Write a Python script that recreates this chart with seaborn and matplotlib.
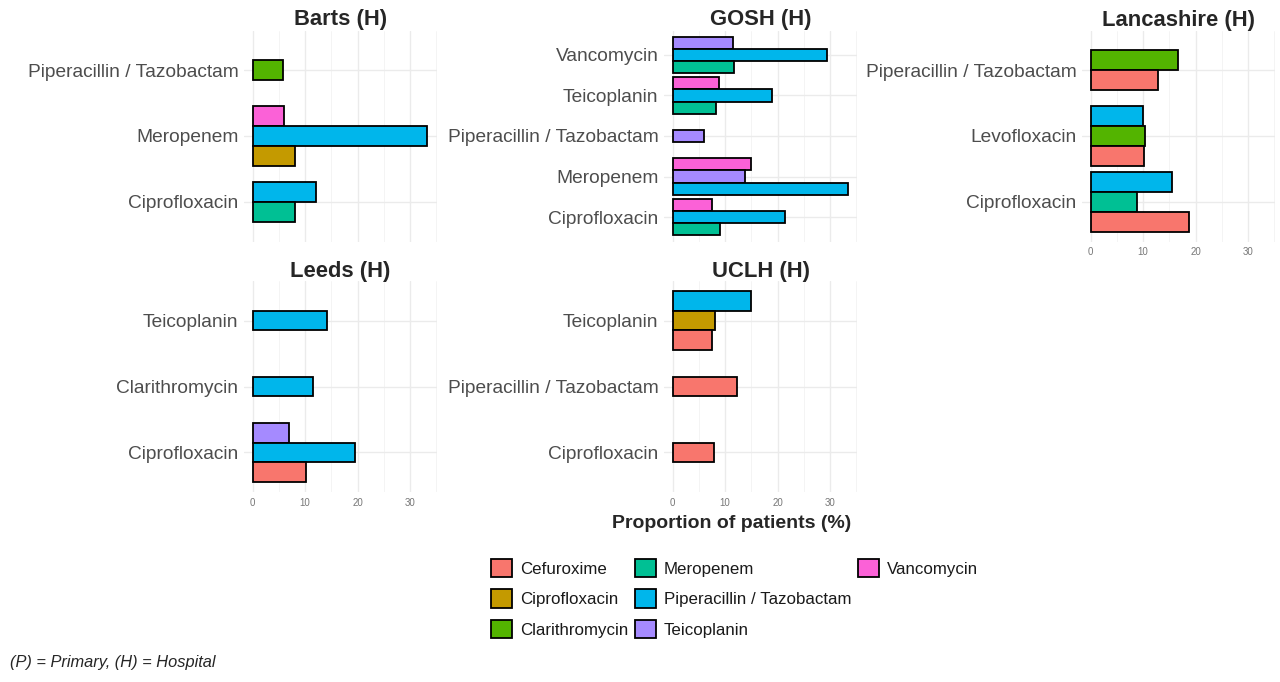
import matplotlib
matplotlib.use("Agg")
import matplotlib.pyplot as plt
from matplotlib.patches import Patch
from matplotlib.ticker import MultipleLocator
import pandas as pd
import seaborn as sns

PIP = "Piperacillin / Tazobactam"

sites = ["Barts (H)", "GOSH (H)", "Lancashire (H)", "Leeds (H)", "UCLH (H)"]
fill_levels = ["Cefuroxime", "Ciprofloxacin", "Clarithromycin", "Meropenem",
               PIP, "Teicoplanin", "Vancomycin"]
fill_colours = ["#F8766D", "#C49A00", "#53B400", "#00C094",
                "#00B6EB", "#A58AFF", "#FB61D7"]

# one row per bar: site, antibiotic on the y axis, antibiotic given with it, % of patients
site = (["Barts (H)"] * 6 + ["GOSH (H)"] * 13 + ["Lancashire (H)"] * 8
        + ["Leeds (H)"] * 5 + ["UCLH (H)"] * 5)
antibiotic = [
    PIP, "Meropenem", "Meropenem", "Meropenem", "Ciprofloxacin", "Ciprofloxacin",
    "Vancomycin", "Vancomycin", "Vancomycin", "Teicoplanin", "Teicoplanin", "Teicoplanin",
    PIP, "Meropenem", "Meropenem", "Meropenem", "Ciprofloxacin", "Ciprofloxacin", "Ciprofloxacin",
    PIP, PIP, "Levofloxacin", "Levofloxacin", "Levofloxacin",
    "Ciprofloxacin", "Ciprofloxacin", "Ciprofloxacin",
    "Teicoplanin", "Clarithromycin", "Ciprofloxacin", "Ciprofloxacin", "Ciprofloxacin",
    "Teicoplanin", "Teicoplanin", "Teicoplanin", PIP, "Ciprofloxacin",
]
combined_with = [
    "Clarithromycin", "Vancomycin", PIP, "Ciprofloxacin", PIP, "Meropenem",
    "Teicoplanin", PIP, "Meropenem", "Vancomycin", PIP, "Meropenem",
    "Teicoplanin", "Vancomycin", "Teicoplanin", PIP, "Vancomycin", PIP, "Meropenem",
    "Clarithromycin", "Cefuroxime", PIP, "Clarithromycin", "Cefuroxime",
    PIP, "Meropenem", "Cefuroxime",
    PIP, PIP, "Teicoplanin", PIP, "Cefuroxime",
    PIP, "Ciprofloxacin", "Cefuroxime", "Cefuroxime", "Cefuroxime",
]
pct = [
    5.7, 5.9, 33.2, 8.0, 12.0, 8.0,
    11.5, 29.5, 11.7, 8.8, 18.9, 8.2,
    6.0, 14.9, 13.8, 33.5, 7.5, 21.4, 9.1,
    16.7, 12.9, 10.0, 10.3, 10.1,
    15.6, 8.9, 18.7,
    14.2, 11.5, 6.9, 19.6, 10.2,
    14.9, 8.1, 7.4, 12.2, 7.9,
]

df = pd.DataFrame({"site": site, "antibiotic": antibiotic,
                   "combined_with": combined_with, "pct": pct})
palette = dict(zip(fill_levels, fill_colours))

sns.set_theme(style="white")
plt.rcParams["font.family"] = ["Liberation Sans", "DejaVu Sans"]

W, H = 1280, 682
col_left = [244, 664, 1082]
row_top = [30.5, 281]
panel_w, panel_h = 193, 211

xmax = df["pct"].max()
xlim = (-0.05 * xmax, 1.05 * xmax)

fig = plt.figure(figsize=(12.8, 6.82), dpi=100)

for i, s in enumerate(sites):
    r, c = divmod(i, 3)
    ax = fig.add_axes([col_left[c] / W, 1 - (row_top[r] + panel_h) / H,
                       panel_w / W, panel_h / H])
    sub = df[df["site"] == s]
    order = sorted(sub["antibiotic"].unique(), reverse=True)
    for cat in order:
        d = sub[sub["antibiotic"] == cat]
        hue_order = sorted(d["combined_with"].unique(),
                           key=fill_levels.index, reverse=True)
        # every bar is 0.3 wide, like ggplot dodge(preserve = "single")
        sns.barplot(data=d, x="pct", y="antibiotic", hue="combined_with",
                    order=order, hue_order=hue_order, palette=palette,
                    saturation=1, width=0.3 * len(hue_order), orient="h",
                    errorbar=None, edgecolor="black", linewidth=1.3,
                    legend=False, ax=ax)

    ax.set_xlim(xlim)
    ax.set_ylim(len(order) - 0.4, -0.6)
    ax.set_xlabel("")
    ax.set_ylabel("")
    ax.xaxis.set_major_locator(MultipleLocator(10))
    ax.xaxis.set_minor_locator(MultipleLocator(5))
    ax.set_axisbelow(True)
    ax.grid(which="major", axis="both", color="#EBEBEB", linewidth=1.0)
    ax.grid(which="minor", axis="x", color="#F3F3F3", linewidth=0.6)
    for sp in ax.spines.values():
        sp.set_visible(False)
    ax.tick_params(axis="both", which="both", length=0)
    ax.tick_params(axis="y", labelsize=13.8, labelcolor="#4D4D4D", pad=4)
    ax.tick_params(axis="x", labelsize=7, labelcolor="#777777", pad=4)
    if s in ("Barts (H)", "GOSH (H)"):
        ax.tick_params(axis="x", labelbottom=False)
    ax.set_title(s, fontsize=15.8, fontweight="bold", pad=3)

fig.text(732 / W, 1 - 523 / H, "Proportion of patients (%)", ha="center",
         va="center", fontsize=14, fontweight="bold")

handles = [Patch(facecolor=palette[k], edgecolor="black", linewidth=1.3, label=k)
           for k in fill_levels]
# two blank slots so the columns fill 3 / 3 / 1 like the original legend
handles += [Patch(facecolor="none", edgecolor="none", label="") for _ in range(2)]
fig.legend(handles=handles, loc="upper left", bbox_to_anchor=(491 / W, 1 - 559 / H),
           ncol=3, frameon=False, fontsize=12.2, handlelength=1.25, handleheight=1.3,
           handletextpad=0.45, columnspacing=0.4, labelspacing=0.7,
           borderpad=0, borderaxespad=0, labelcolor="#1A1A1A")

fig.text(10 / W, 1 - 663 / H, "(P) = Primary, (H) = Hospital", ha="left",
         va="center", fontsize=11.8, style="italic")

fig.savefig("out.png", dpi=100)
